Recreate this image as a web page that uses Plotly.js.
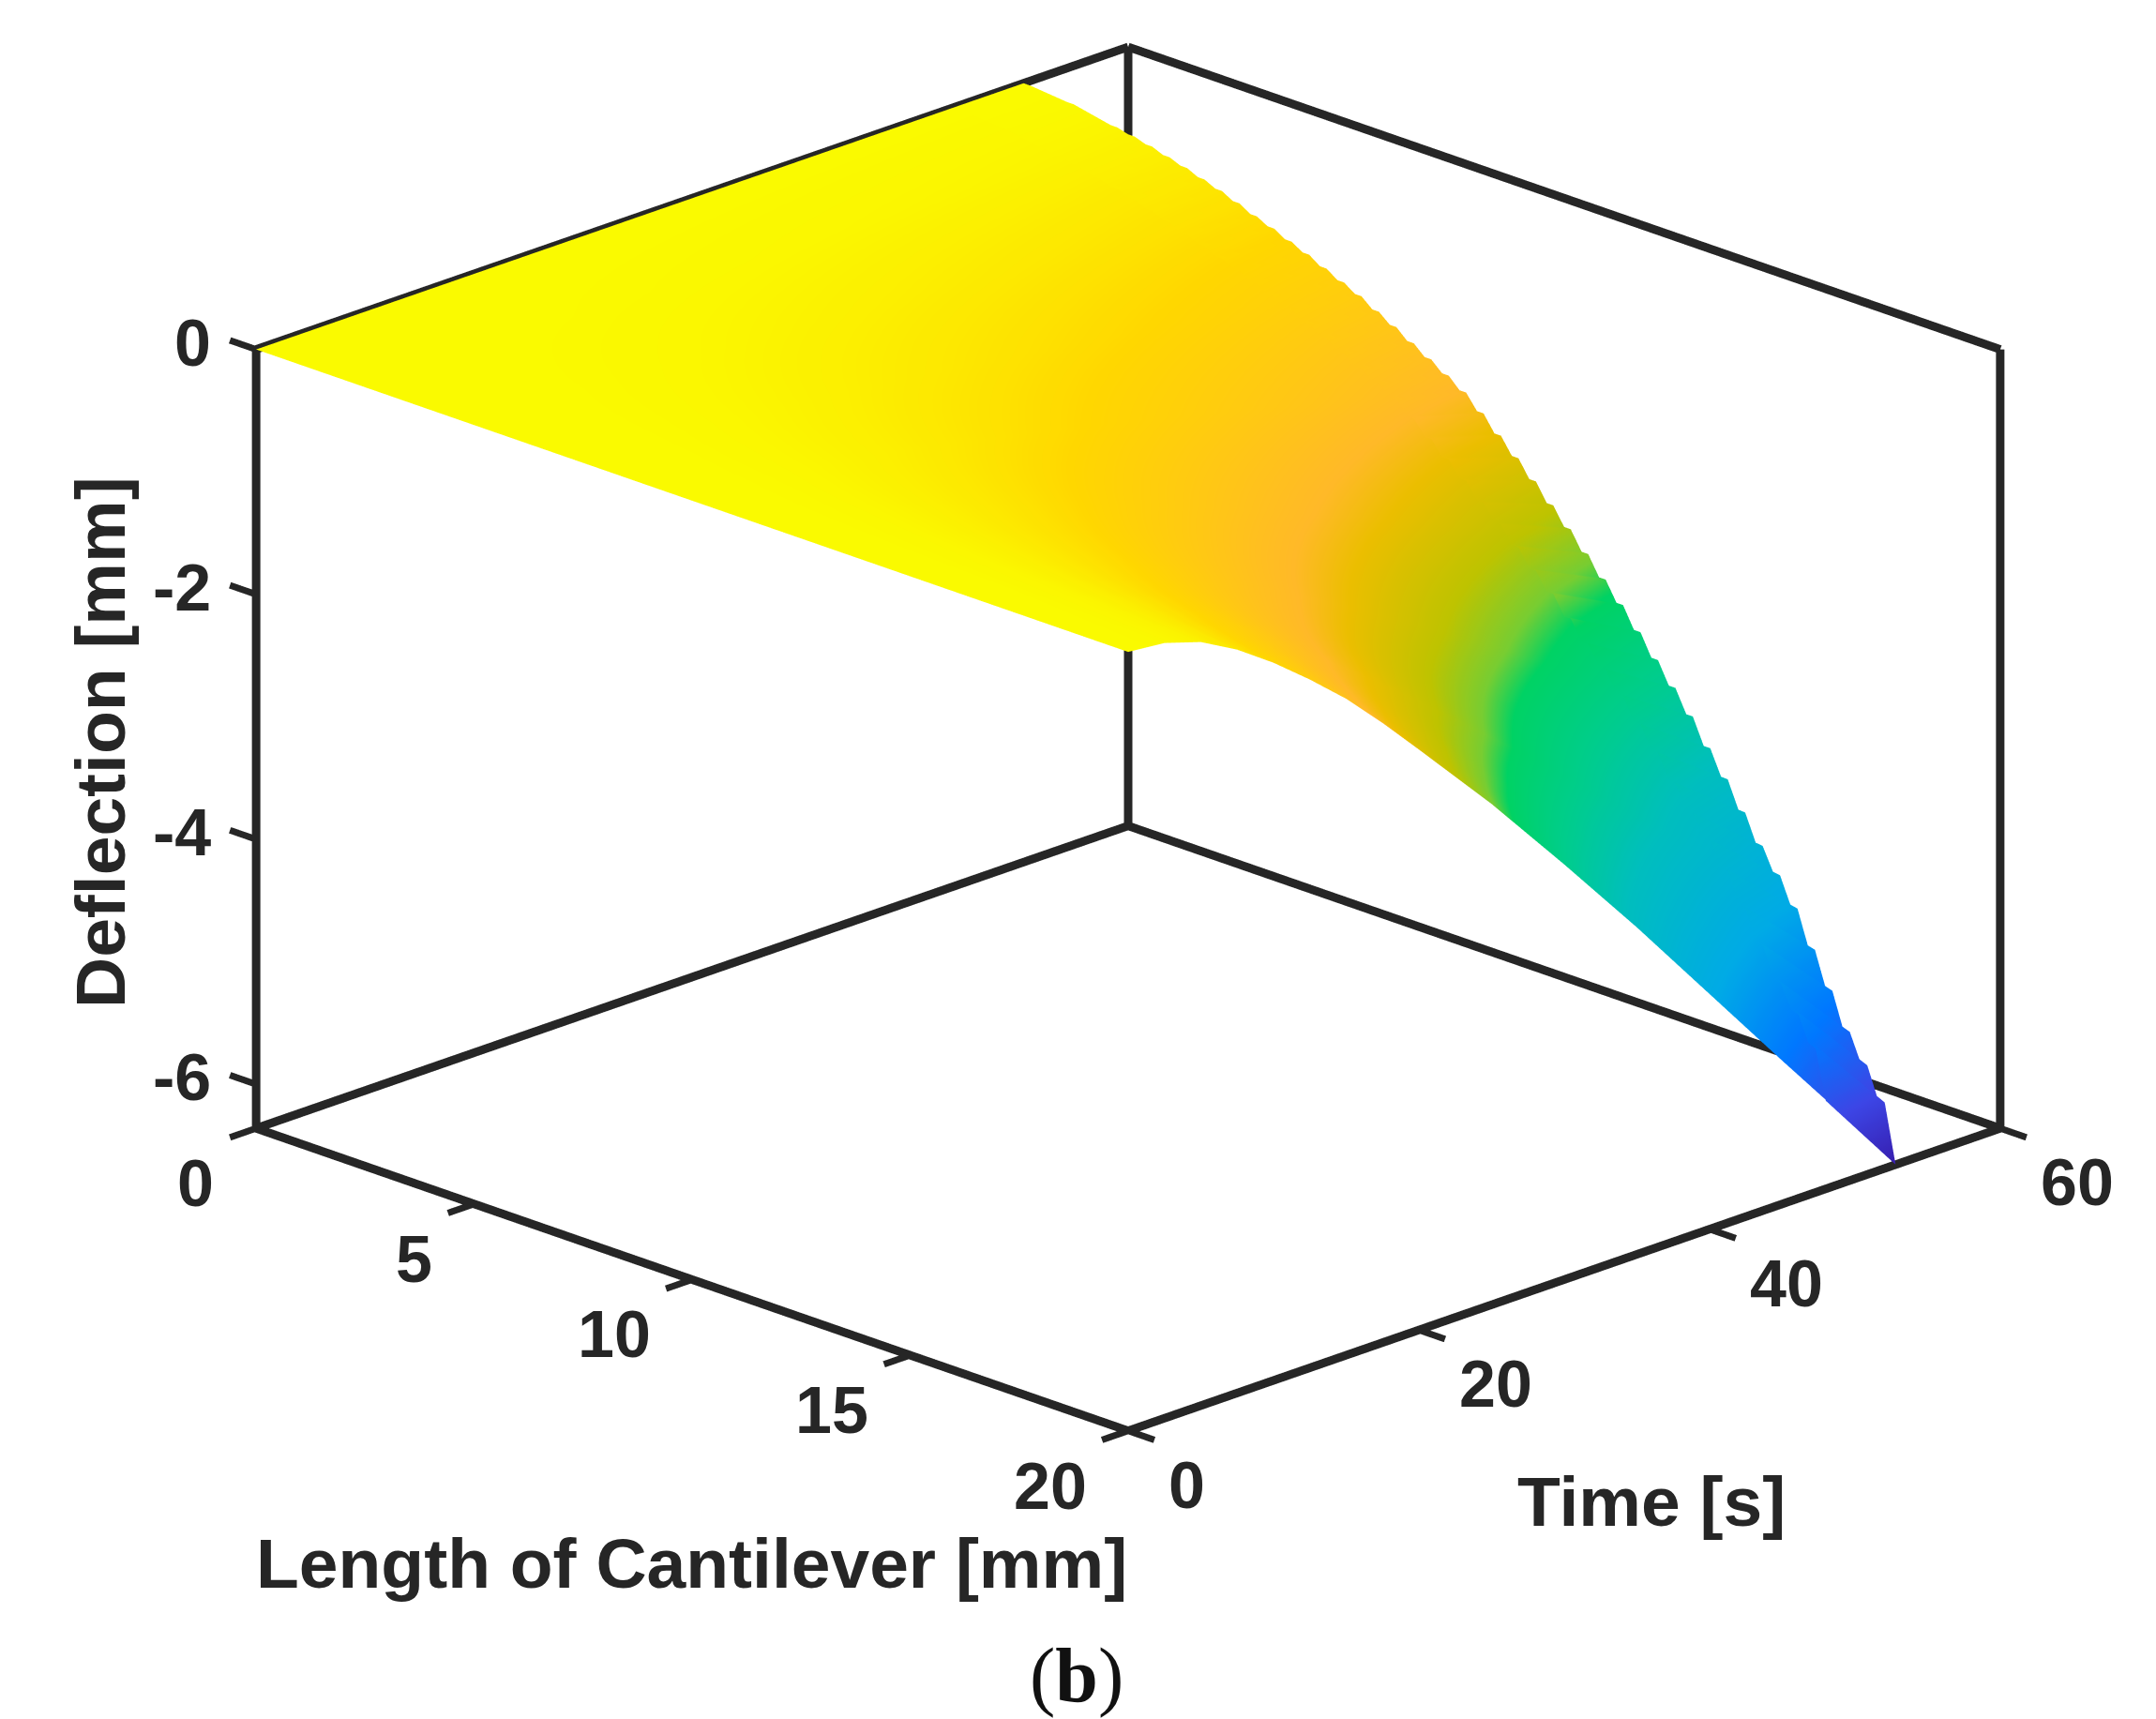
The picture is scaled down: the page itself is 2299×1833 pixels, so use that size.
<!DOCTYPE html>
<html><head><meta charset="utf-8">
<script src="https://cdn.plot.ly/plotly-3.0.1.min.js"></script>
<style>html,body{margin:0;padding:0;background:#fff}#c{width:2299px;height:1833px}</style>
</head><body><div id="c"></div>
<script>
const lengthMM=[0,2.5,5,7.5,10,12.5,15,16.25,17.5,18.75,20];
const timeS=[0,2.5,5,7.5,10,12.5,15,17.5,20,25,30,35,40,45,50];
const deflection=[
[0,0,0,0,0,0,0,0,0,0,0],
[0,-.001,-.002,-.004,-.006,-.01,-.015,-.018,-.021,-.025,-.03],
[0,-.003,-.008,-.015,-.025,-.042,-.063,-.076,-.088,-.106,-.125],
[0,-.006,-.018,-.035,-.058,-.097,-.145,-.175,-.204,-.245,-.29],
[0,-.01,-.032,-.06,-.1,-.168,-.25,-.303,-.353,-.423,-.5],
[0,-.015,-.047,-.089,-.148,-.248,-.37,-.448,-.522,-.625,-.74],
[0,-.02,-.063,-.12,-.2,-.335,-.5,-.605,-.705,-.845,-1.0],
[0,-.026,-.082,-.156,-.26,-.436,-.65,-.787,-.917,-1.099,-1.3],
[0,-.032,-.102,-.194,-.324,-.543,-.81,-.98,-1.142,-1.369,-1.62],
[0,-.045,-.143,-.272,-.454,-.76,-1.135,-1.373,-1.6,-1.918,-2.27],
[0,-.059,-.187,-.356,-.594,-.995,-1.485,-1.797,-2.094,-2.51,-2.97],
[0,-.074,-.232,-.443,-.738,-1.236,-1.845,-2.232,-2.601,-3.118,-3.69],
[0,-.089,-.28,-.533,-.888,-1.487,-2.22,-2.686,-3.13,-3.752,-4.44],
[0,-.104,-.327,-.623,-1.038,-1.739,-2.595,-3.14,-3.659,-4.386,-5.19],
[0,-.119,-.374,-.712,-1.186,-1.987,-2.965,-3.588,-4.181,-5.011,-5.93]];
// last recorded time step, read along the toothed upper edge of the surface
const edgeL=[0,1,2,2.4,2.8,3.2,3.6,4,4.4,4.8,5.2,5.6,6,6.4,6.8,7.2,7.6,8,8.4,8.8,9.2,9.6,10,10.4,10.8,11.2,11.6,12,12.4,12.8,13.2,13.6,14,14.4,14.8,15.2,15.6,16,16.4,16.8,17.2,17.6,18,18.4,18.8,19.2,19.6,20];
const edgeZ=[0,-.03,-.095,-.121,-.153,-.191,-.229,-.273,-.318,-.369,-.426,-.477,-.534,-.591,-.655,-.719,-.782,-.859,-.935,-1.018,-1.1,-1.183,-1.272,-1.393,-1.526,-1.66,-1.8,-1.946,-2.092,-2.245,-2.404,-2.563,-2.735,-2.913,-3.091,-3.275,-3.485,-3.689,-3.911,-4.134,-4.325,-4.547,-4.834,-5.12,-5.406,-5.629,-5.883,-6.36];
const innerZ=[0,-.027,-.084,-.107,-.136,-.169,-.203,-.242,-.282,-.327,-.378,-.423,-.474,-.524,-.581,-.638,-.694,-.762,-.829,-.903,-.976,-1.049,-1.128,-1.236,-1.354,-1.472,-1.597,-1.726,-1.856,-1.991,-2.132,-2.273,-2.426,-2.584,-2.742,-2.905,-3.091,-3.272,-3.469,-3.667,-3.836,-4.033,-4.288,-4.541,-4.795,-4.993,-5.218,-5.641];
const edgeT=[48,52.8];
const zTicks=[0,-2,-4,-6], lTicks=[0,5,10,15,20], tTicks=[0,20,40,60];
const zMin=-6.36, lMax=20, tMax=60;
const cs=[[0,'rgb(55,30,175)'],[.088,'rgb(60,70,230)'],[.182,'rgb(0,120,255)'],[.292,'rgb(0,170,230)'],[.434,'rgb(0,190,190)'],[.528,'rgb(0,205,140)'],[.607,'rgb(0,210,100)'],[.638,'rgb(120,205,50)'],[.690,'rgb(190,195,0)'],[.764,'rgb(235,190,0)'],[.803,'rgb(255,185,40)'],[.921,'rgb(255,215,0)'],[1,'rgb(250,250,0)']];
const ink='#262626', W=2299, H=1833;

function seg(list,w){const x=[],y=[],z=[];list.forEach(s=>{x.push(s[0][0],s[1][0],null);y.push(s[0][1],s[1][1],null);z.push(s[0][2],s[1][2],null);});
 return {type:'scatter3d',mode:'lines',x,y,z,line:{color:ink,width:w},hoverinfo:'skip',showlegend:false,connectgaps:false};}
const box=[[[0,0,zMin],[lMax,0,zMin]],[[lMax,0,zMin],[lMax,tMax,zMin]],[[lMax,tMax,zMin],[0,tMax,zMin]],[[0,tMax,zMin],[0,0,zMin]],
 [[0,0,0],[0,tMax,0]],[[0,tMax,0],[lMax,tMax,0]],[[0,0,zMin],[0,0,0]],[[0,tMax,zMin],[0,tMax,0]],[[lMax,tMax,zMin],[lMax,tMax,0]]];
const dl=.6, dt=1.8, shelf=.15;
const ticks=[];
lTicks.forEach(v=>ticks.push([[v,0,zMin],[v,-dt,zMin]]));
tTicks.forEach(v=>ticks.push([[lMax,v,zMin],[lMax+dl,v,zMin]]));
zTicks.forEach(v=>ticks.push([[0,0,v],[-dl,0,v]]));

const ann=[];
const f={family:'Liberation Sans, Arial, sans-serif',size:70,color:ink,weight:700};
zTicks.forEach(v=>ann.push({x:0,y:0,z:v,text:String(v),showarrow:false,xanchor:'right',yanchor:'middle',xshift:-46,yshift:7,font:f}));
lTicks.forEach(v=>ann.push({x:v,y:0,z:zMin,text:String(v),showarrow:false,xanchor:'center',yanchor:'middle',xshift:v<10?-64:-83,yshift:-59,font:f}));
tTicks.forEach(v=>ann.push({x:lMax,y:v,z:zMin,text:String(v),showarrow:false,xanchor:'center',yanchor:'middle',xshift:v==0?63:82,yshift:-58,font:f}));

const k=1, zoom=1.83;
const titleF=Object.assign({},f,{size:75});
const a2=(px,py,text,font,extra)=>Object.assign({xref:'paper',yref:'paper',x:px/W,y:1-py/H,text,showarrow:false,xanchor:'center',yanchor:'middle',font},extra||{});
const layout={width:W,height:H,margin:{l:0,r:0,t:0,b:0},paper_bgcolor:'#fff',showlegend:false,
 scene:{domain:{x:[.0465,1],y:[.1375,1]},bgcolor:'#fff',
  aspectmode:'manual',aspectratio:{x:zoom,y:zoom,z:.693*zoom},
  camera:{projection:{type:'orthographic'},eye:{x:k,y:-k,z:.523*k},center:{x:0,y:0,z:0},up:{x:0,y:0,z:1}},
  xaxis:{visible:false,range:[-1,21]},yaxis:{visible:false,range:[-3,63]},zaxis:{visible:false,range:[-6.8,.4]},
  annotations:ann},
 annotations:[
  a2(737,1667,'Length of Cantilever [mm]',titleF),
  a2(1761,1601,'Time [s]',titleF),
  a2(107,792,'Deflection [mm]',titleF,{textangle:-90}),
  a2(1148,1786,'(<b>b</b>)',{family:'Liberation Serif, serif',size:82,color:'#111'})
 ]};
const common={type:'surface',cmin:zMin,cmax:0,colorscale:cs,showscale:false,hoverinfo:'skip',
 lighting:{ambient:1,diffuse:0,specular:0,fresnel:0,roughness:1},contours:{x:{show:false},y:{show:false},z:{show:false}}};
const surf=Object.assign({},common,{x:lengthMM,y:timeS,z:deflection});
const dbl=a=>a.flatMap((v,i)=>i<a.length-1?[v,v]:[v]);
const stripX=edgeL.flatMap((v,i)=>i<edgeL.length-1?[v,v+shelf]:[v]);
const strip=Object.assign({},common,{x:stripX,y:edgeT,z:[dbl(innerZ),dbl(edgeZ)]});
Plotly.newPlot('c',[surf,strip,seg(box,18),seg(ticks,14)],layout,{displayModeBar:false});
</script></body></html>
